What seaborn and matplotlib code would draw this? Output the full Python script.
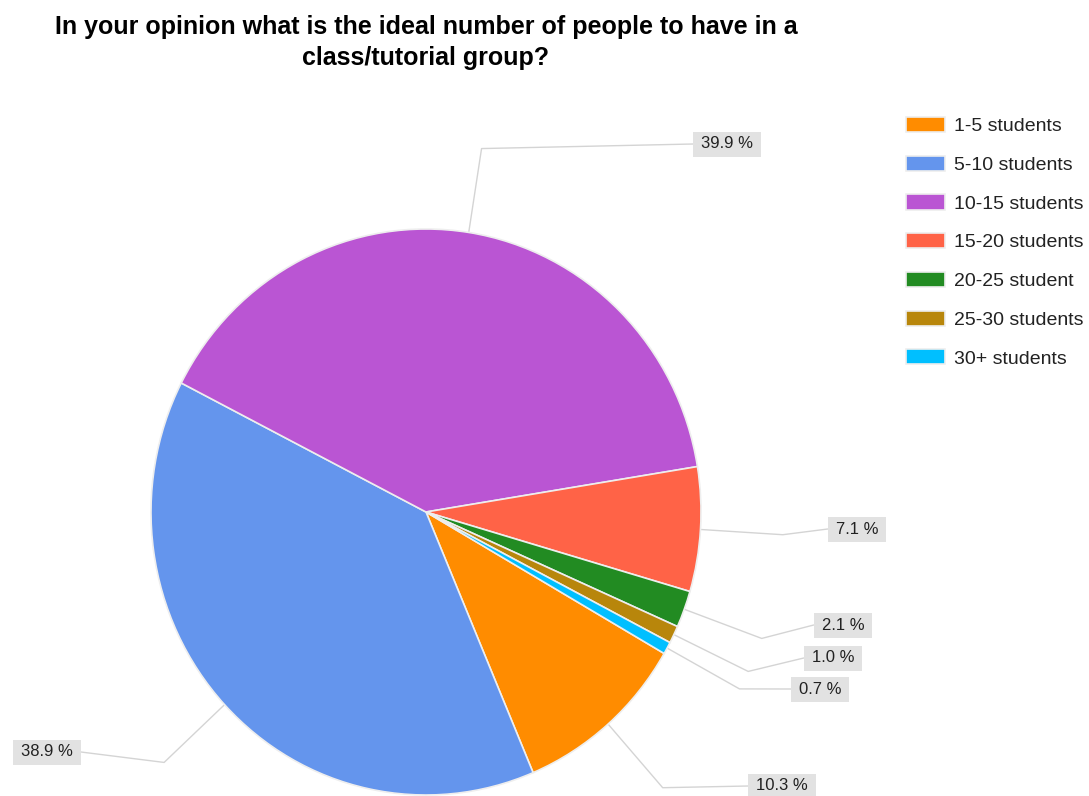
import matplotlib
matplotlib.use("Agg")
import numpy as np
import matplotlib.pyplot as plt
import seaborn as sns
from matplotlib.patches import Rectangle

# survey answers and their shares (%)
categories = ["1-5 students", "5-10 students", "10-15 students", "15-20 students",
              "20-25 student", "25-30 students", "30+ students"]
shares = [10.3, 38.9, 39.9, 7.1, 2.1, 1.0, 0.7]
slice_colors = ["#FF8C00", "#6495ED", "#BA55D3", "#FF6347",
                "#228B22", "#B8860B", "#00BFFF"]
title_lines = ["In your opinion what is the ideal number of people to have in a",
               "class/tutorial group?"]

# label box centres, pixels from the top-left corner of the figure
label_pos = [(782, 786), (47, 752), (727, 144), (857, 529),
             (843, 625), (833, 658), (820, 689)]

W, H = 1089, 796
TEXT = "#222222"

sns.set_theme(style="white")
plt.rcParams["font.family"] = ["Liberation Sans", "DejaVu Sans"]

fig = plt.figure(figsize=(W / 100, H / 100), dpi=100)
fig.patch.set_facecolor("white")

# full-figure overlay in pixel units for leader lines and value boxes
ov = fig.add_axes([0, 0, 1, 1], zorder=0)
ov.set_xlim(0, W)
ov.set_ylim(H, 0)
ov.axis("off")

ax = fig.add_axes([151 / W, 1 / H, 550 / W, 566 / H], zorder=1)
ax.patch.set_alpha(0)
wedges, _ = ax.pie(shares, colors=sns.color_palette(slice_colors),
                   startangle=-30, counterclock=False,
                   wedgeprops=dict(edgecolor="#eeeeee", linewidth=1.2))
ax.set_xlim(-1, 1)
ax.set_ylim(-1, 1)
ax.set_aspect("auto")
for w in wedges:
    w.set_clip_on(False)


def to_px(x, y):
    dx, dy = ax.transData.transform((x, y))
    return dx, H - dy


texts = []
for val, (lx, ly) in zip(shares, label_pos):
    t = ov.text(lx, ly, f"{val:.1f} %", ha="center", va="center",
                fontsize=12, color=TEXT, zorder=3)
    texts.append(t)

fig.canvas.draw()
renderer = fig.canvas.get_renderer()

for w, t, (lx, ly) in zip(wedges, texts, label_pos):
    bb = t.get_window_extent(renderer)
    x0, x1 = bb.x0, bb.x1
    y_top, y_bot = H - bb.y1, H - bb.y0
    px, py = 8, 5
    ov.add_patch(Rectangle((x0 - px, y_top - py), (x1 - x0) + 2 * px,
                           (y_bot - y_top) + 2 * py, facecolor="#e2e2e2",
                           edgecolor="none", zorder=2))
    mid = np.radians((w.theta1 + w.theta2) / 2)
    ax_, ay_ = to_px(np.cos(mid), np.sin(mid))
    ex, ey = to_px(1.3 * np.cos(mid), 1.3 * np.sin(mid))
    edge = x0 - px if lx > ex else x1 + px
    ov.plot([ax_, ex, edge], [ay_, ey, ly], color="#d4d4d4", lw=1.0, zorder=1)

for line, y in zip(title_lines, [27, 58]):
    fig.text(426 / W, 1 - y / H, line, ha="center", va="center",
             fontsize=18, fontweight="bold", color="black")

leg = fig.legend(wedges, categories, loc="upper left",
                 bbox_to_anchor=(906 / W, 1 - 117 / H), bbox_transform=fig.transFigure,
                 frameon=False, fontsize=14, handlelength=2.0, handleheight=0.82,
                 handletextpad=0.46, labelspacing=1.05, borderpad=0, borderaxespad=0)
for txt in leg.get_texts():
    txt.set_color(TEXT)

fig.savefig("out.png", dpi=100, facecolor="white")
